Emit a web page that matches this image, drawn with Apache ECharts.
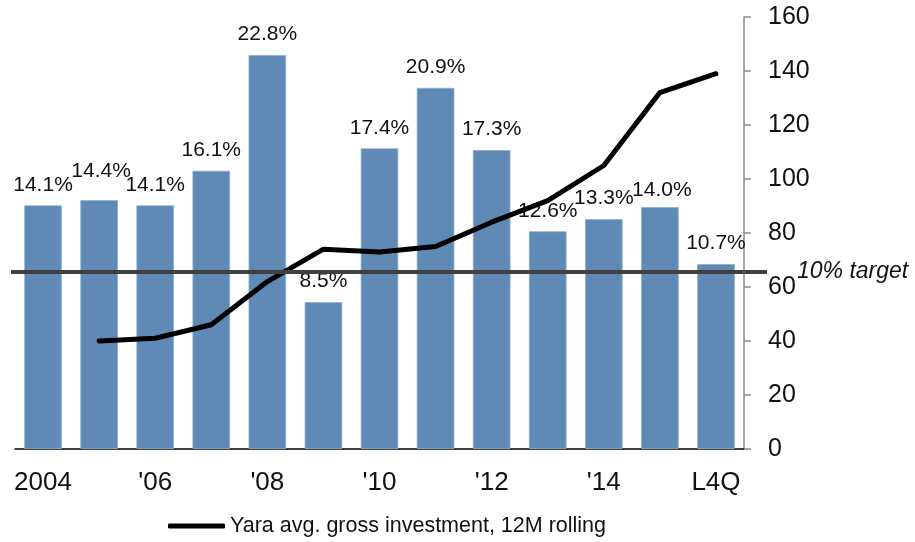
<!DOCTYPE html>
<html>
<head>
<meta charset="utf-8">
<title>Yara ROIC and gross investment</title>
<script src="https://cdn.jsdelivr.net/npm/echarts@6/dist/echarts.min.js"></script>
<style>
  html, body { margin: 0; padding: 0; background: #ffffff; }
  #chart { width: 915px; height: 542px; }
</style>
</head>
<body>
<div id="chart"></div>
<script>
// Periods on the category axis
const categories = ['2004', "'05", "'06", "'07", "'08", "'09", "'10", "'11", "'12", "'13", "'14", "'15", 'L4Q'];
// Return per period, % (bars, hidden left scale)
const roicPct = [14.1, 14.4, 14.1, 16.1, 22.8, 8.5, 17.4, 20.9, 17.3, 12.6, 13.3, 14.0, 10.7];
// Average gross investment, 12M rolling (line, right scale)
const grossInvestment = [null, 40, 41, 46, 62, 74, 73, 75, 84, 92, 105, 132, 139];
// Right-hand axis ticks
const rightTicks = [0, 20, 40, 60, 80, 100, 120, 140, 160];
// Target return, %
const targetPct = 10;
const targetLabel = '10% target';
const lineName = 'Yara avg. gross investment, 12M rolling';

const FONT = "'Liberation Sans', Arial, sans-serif";
const TEXT = '#111111';

// Small label nudges where neighbouring labels crowd each other
const labelNudge = { "'05": [2, -8], "'15": [2, 4] };

const chart = echarts.init(document.getElementById('chart'), null, { renderer: 'canvas' });

const barData = roicPct.map((v, i) => {
  const item = { value: v };
  if (labelNudge[categories[i]]) item.label = { offset: labelNudge[categories[i]] };
  return item;
});

chart.setOption({
  animation: false,
  backgroundColor: '#ffffff',
  textStyle: { fontFamily: FONT },
  grid: [
    { left: 15, right: 171, top: 17, bottom: 93, containLabel: false },
    // wider band so the target rule runs past the plot edges
    { left: 11, right: 148, top: 17, bottom: 93, containLabel: false }
  ],
  legend: {
    data: [{ name: lineName, icon: 'roundRect' }],
    left: 163,
    top: 510,
    itemWidth: 57,
    itemHeight: 5,
    itemGap: 10,
    itemStyle: { color: '#000000' },
    textStyle: { fontFamily: FONT, fontSize: 21.5, color: TEXT }
  },
  xAxis: [
    {
      type: 'category',
      gridIndex: 0,
      data: categories,
      boundaryGap: true,
      axisLine: { show: true, lineStyle: { color: '#000000', width: 1.5 } },
      axisTick: { show: false },
      axisLabel: {
        interval: 1,
        margin: 21,
        fontFamily: FONT,
        fontSize: 26,
        color: TEXT
      },
      splitLine: { show: false }
    },
    {
      type: 'value',
      gridIndex: 1,
      min: 0,
      max: 1,
      show: false
    }
  ],
  yAxis: [
    {
      type: 'value',
      gridIndex: 0,
      min: 0,
      max: 25,
      show: false,
      splitLine: { show: false }
    },
    {
      type: 'value',
      gridIndex: 0,
      position: 'right',
      min: rightTicks[0],
      max: rightTicks[rightTicks.length - 1],
      interval: rightTicks[1] - rightTicks[0],
      axisLine: { show: true, lineStyle: { color: '#8c8c8c', width: 1.5 } },
      axisTick: { show: true, inside: false, length: 7, lineStyle: { color: '#8c8c8c', width: 1.5 } },
      axisLabel: {
        margin: 24,
        fontFamily: FONT,
        fontSize: 25,
        color: TEXT
      },
      splitLine: { show: false }
    },
    {
      // scale for the target rule
      type: 'value',
      gridIndex: 1,
      min: 0,
      max: 24.4,
      show: false
    }
  ],
  series: [
    {
      name: 'ROIC',
      type: 'bar',
      xAxisIndex: 0,
      yAxisIndex: 0,
      z: 2,
      barWidth: '67%',
      data: barData,
      itemStyle: { color: '#5e8ab5', borderColor: '#8fadcc', borderWidth: 0.8 },
      label: {
        show: true,
        position: 'top',
        distance: 10,
        formatter: p => p.value.toFixed(1) + '%',
        fontFamily: FONT,
        fontSize: 21,
        color: TEXT
      }
    },
    {
      name: 'target',
      type: 'line',
      xAxisIndex: 1,
      yAxisIndex: 2,
      z: 3,
      data: [],
      markLine: {
        silent: true,
        symbol: ['none', 'none'],
        lineStyle: { color: '#404040', width: 4, type: 'solid' },
        label: {
          show: true,
          position: 'end',
          distance: 30,
          formatter: targetLabel,
          fontFamily: FONT,
          fontSize: 23,
          fontStyle: 'italic',
          color: TEXT
        },
        data: [{ yAxis: targetPct }]
      }
    },
    {
      name: lineName,
      type: 'line',
      xAxisIndex: 0,
      yAxisIndex: 1,
      z: 4,
      data: grossInvestment,
      symbol: 'none',
      smooth: false,
      lineStyle: { color: '#000000', width: 5, cap: 'round', join: 'round' },
      itemStyle: { color: '#000000' }
    }
  ]
});
</script>
</body>
</html>
